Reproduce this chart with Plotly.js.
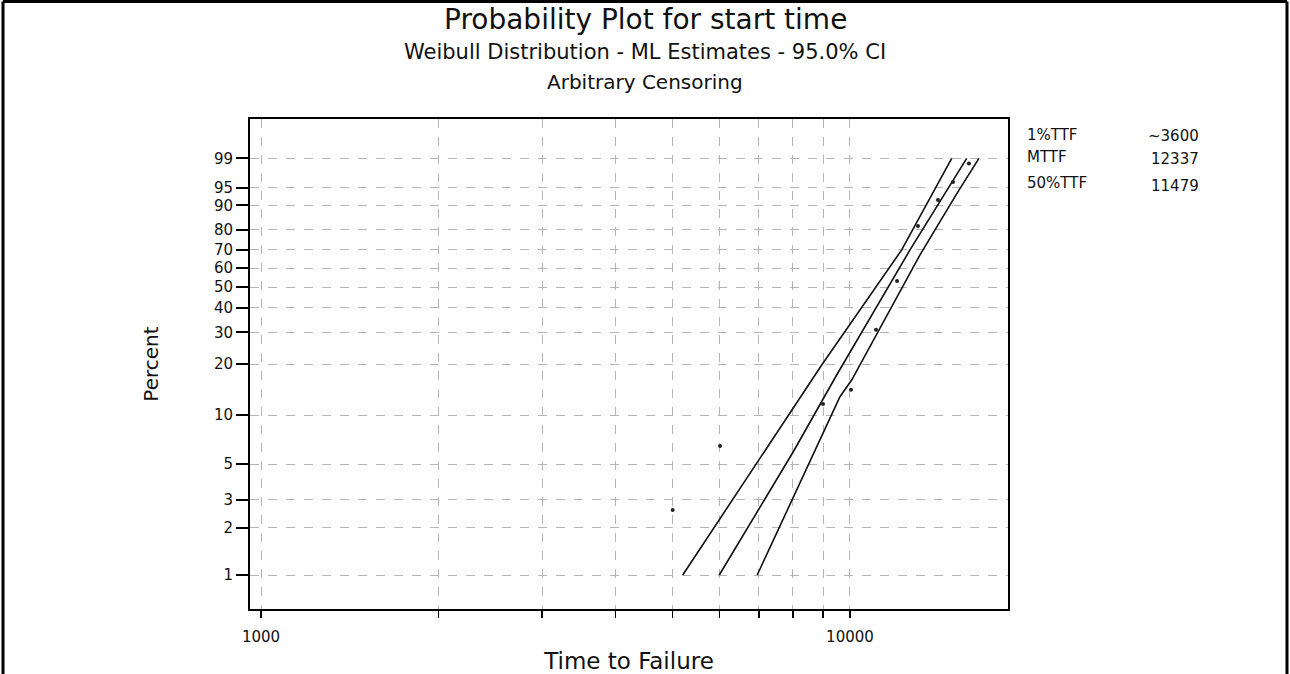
<!DOCTYPE html>
<html><head><meta charset="utf-8">
<script src="https://cdn.plot.ly/plotly-3.0.1.min.js"></script>
<style>html,body{margin:0;padding:0;background:#fff;} #chart{width:1290px;height:674px;}</style>
</head><body><div id="chart"></div>
<script>
// ---- data ----
const pointTime = [5000, 6017, 9000, 10040, 11070, 12020, 13045, 14107, 14960, 15920];
const pointPct  = [2.58, 6.48, 11.7, 14.2, 30.9, 53.2, 81.8, 91.75, 96.1, 98.6];
const fitTime = [5999, 8012, 9493, 12643, 15783];
const fitPct  = [1, 5.97, 17.33, 69.8, 99];
const lowerTime = [5200, 8953, 12240, 14885];
const lowerPct  = [1, 19.79, 69.8, 99];
const upperTime = [6958, 9616, 10066, 13148, 15257, 16557];
const upperPct  = [1, 12.92, 16.2, 67.1, 94.04, 99];
const pctTicks = [1, 2, 3, 5, 10, 20, 30, 40, 50, 60, 70, 80, 90, 95, 99];
const timeTicks = [1000, 2000, 3000, 4000, 5000, 6000, 7000, 8000, 9000, 10000];
const timeTickLabels = ['1000', '', '', '', '', '', '', '', '', '10000'];
const statLabels = ['1%TTF', 'MTTF', '50%TTF'];
const statValues = ['~3600', '12337', '11479'];
const titleText = 'Probability Plot for start time';
const subtitleLines = ['Weibull Distribution - ML Estimates - 95.0% CI', 'Arbitrary Censoring'];

// Weibull probability scale
const wb = p => Math.log(-Math.log(1 - p / 100));

const FONT = 'DejaVu Sans, Liberation Sans, Arial, sans-serif';
const lineStyle = {color: '#111', width: 1.6};

const traces = [
  {x: lowerTime, y: lowerPct.map(wb), mode: 'lines', line: lineStyle, hoverinfo: 'skip'},
  {x: fitTime, y: fitPct.map(wb), mode: 'lines', line: lineStyle, hoverinfo: 'skip'},
  {x: upperTime, y: upperPct.map(wb), mode: 'lines', line: lineStyle, hoverinfo: 'skip'},
  {x: pointTime, y: pointPct.map(wb), mode: 'markers',
   marker: {color: '#222', size: 4, symbol: 'circle'}}
];

// plot area in pixels: x 250..1008, y 119..609
const pw = 758, ph = 490, pl = 250, pb = 609;
const px = v => (v - pl) / pw;
const py = v => (pb - v) / ph;

const annotations = [
  {text: titleText, x: px(645), y: py(19), xref: 'paper', yref: 'paper', showarrow: false,
   xanchor: 'center', yanchor: 'middle', font: {family: FONT, size: 28, color: '#111'}},
  {text: subtitleLines[0], x: px(645), y: py(52), xref: 'paper', yref: 'paper', showarrow: false,
   xanchor: 'center', yanchor: 'middle', font: {family: FONT, size: 21, color: '#111'}},
  {text: subtitleLines[1], x: px(645), y: py(82), xref: 'paper', yref: 'paper', showarrow: false,
   xanchor: 'center', yanchor: 'middle', font: {family: FONT, size: 20, color: '#111'}}
];
const labelY = [135, 157, 183], valueY = [136, 159, 186];
statLabels.forEach((s, i) => {
  annotations.push({text: s, x: px(1025), y: py(labelY[i]), xref: 'paper', yref: 'paper', showarrow: false,
    xanchor: 'left', yanchor: 'middle', font: {family: FONT, size: 15, color: '#111'}});
  annotations.push({text: statValues[i], x: px(1201), y: py(valueY[i]), xref: 'paper', yref: 'paper', showarrow: false,
    xanchor: 'right', yanchor: 'middle', font: {family: FONT, size: 15, color: '#111'}});
});

const border = {type: 'line', xref: 'paper', yref: 'paper', line: {color: '#000', width: 3}};
const shapes = [
  Object.assign({}, border, {x0: px(3), x1: px(3), y0: py(700), y1: py(1.5)}),
  Object.assign({}, border, {x0: px(3), x1: px(1287), y0: py(1.5), y1: py(1.5)}),
  Object.assign({}, border, {x0: px(1287), x1: px(1287), y0: py(700), y1: py(1.5)})
];

const layout = {
  width: 1290, height: 674,
  margin: {l: 250, r: 282, t: 119, b: 65},
  paper_bgcolor: '#fff', plot_bgcolor: '#fff',
  showlegend: false,
  font: {family: FONT, color: '#111'},
  xaxis: {
    type: 'log', range: [2.9813, 4.2683],
    tickmode: 'array', tickvals: timeTicks, ticktext: timeTickLabels,
    ticks: 'outside', ticklen: 7, tickwidth: 1.5, tickcolor: '#000',
    ticklabelstandoff: 6,
    tickfont: {family: FONT, size: 15, color: '#111'},
    showline: true, linecolor: '#000', linewidth: 2, mirror: true,
    showgrid: true, gridcolor: '#b5b5b5', gridwidth: 1, griddash: 'dash',
    zeroline: false,
    title: {text: 'Time to Failure', font: {family: FONT, size: 23, color: '#111'}, standoff: 8}
  },
  yaxis: {
    type: 'linear', range: [-5.100, 2.105],
    tickmode: 'array', tickvals: pctTicks.map(wb), ticktext: pctTicks.map(String),
    ticks: 'outside', ticklen: 12, tickwidth: 2, tickcolor: '#000',
    tickfont: {family: FONT, size: 15, color: '#111'},
    showline: true, linecolor: '#000', linewidth: 2, mirror: true,
    showgrid: true, gridcolor: '#b5b5b5', gridwidth: 1, griddash: 'dash',
    zeroline: false,
    title: {text: 'Percent', font: {family: FONT, size: 20, color: '#111'}, standoff: 50}
  },
  annotations: annotations,
  shapes: shapes
};

Plotly.newPlot('chart', traces, layout, {displayModeBar: false, staticPlot: true});
</script>
</body></html>
